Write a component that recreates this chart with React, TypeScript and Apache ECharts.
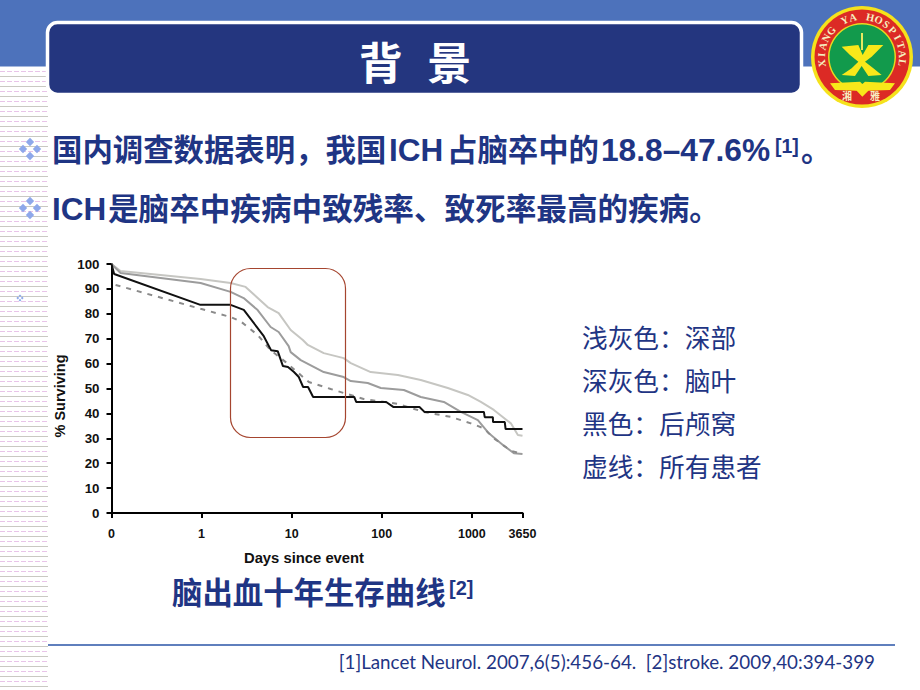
import React, { useEffect, useRef } from "react";
import * as echarts from "echarts";

const NAVY = "#1f3584";
const SANS = "'Liberation Sans','Noto Sans CJK SC',sans-serif";

const xTickLabels = ["0", "1", "10", "100", "1000", "3650"];
const yMax = 100;

const deep: number[][] = [[0.1, 100], [0.126, 97.2], [0.975, 94], [2.1, 92.4], [3.08, 90.8], [5.41, 82.7], [7.17, 80.3], [9.75, 73.5], [13.3, 69.5], [15.1, 67.5], [22.7, 64.2], [37.8, 62.2], [45.3, 60.2], [75.4, 56.6], [151, 55.4], [271, 53.4], [541, 50.2], [903, 47.4], [1259, 44.6], [1755, 41.4], [2710, 36], [3243, 31.3], [3650, 31]];
const lobar: number[][] = [[0.1, 100], [0.126, 96.4], [0.975, 92.4], [2.1, 88.8], [2.93, 86.3], [4.19, 81.5], [5.84, 74.7], [7.17, 72.7], [9.26, 67], [9.75, 64.6], [12.6, 61.4], [22.7, 56.6], [37.8, 54.6], [45.3, 53], [69.9, 52.2], [97.5, 50.2], [176, 49.4], [271, 46.6], [489, 44.6], [755, 40.6], [1166, 37.3], [1545, 32], [2210, 27.3], [2930, 24], [3650, 23.7]];
const posterior: number[][] = [[0.1, 100], [0.107, 96], [0.97, 83.6], [2.1, 83.6], [2.94, 81.6], [4.9, 71], [5.9, 65.4], [7, 65], [8, 59], [9.1, 58.6], [10.6, 56.6], [12, 54.6], [13.4, 50.6], [15.2, 50.6], [17.3, 46.6], [49.5, 46.6], [52, 44.6], [112, 44.6], [134, 42.6], [262, 42.6], [298, 40.6], [1360, 40.6], [1390, 38.5], [1710, 38.5], [1720, 36.5], [2320, 36.5], [2370, 33.7], [3650, 33.7]];
const allPatients: number[][] = [[0.111, 91.6], [0.975, 82], [2.1, 78.7], [2.71, 77], [4.19, 71.5], [5.84, 65.4], [8.58, 60.6], [12.6, 55.4], [15.5, 52.6], [27.1, 49.8], [37.8, 48.2], [63, 45.8], [151, 43.8], [293, 40.6], [585, 38.6], [975, 36], [1359, 34], [1755, 30], [2710, 25], [3650, 23.7]];

const keyLabels = ["浅灰色：深部", "深灰色：脑叶", "黑色：后颅窝", "虚线：所有患者"];
const hospitalName = "XIANG YA HOSPITAL";

function stripes() {
  const out: any[] = [];
  for (let y = 71, i = 0; y < 690; y += 5, i++) {
    out.push({
      type: "line", silent: true,
      shape: { x1: 0, y1: y + 0.5, x2: 48, y2: y + 0.5 },
      style: i % 2 === 1
        ? { stroke: "#c9c9c2", lineWidth: 1 }
        : { stroke: "#e8c4e8", lineWidth: 1, lineDash: [5, 2] },
    });
  }
  return out;
}

function bullet(cx: number, cy: number, r: number, d: number) {
  return [[0, -d], [0, d], [-d, 0], [d, 0]].map(([dx, dy]) => ({
    type: "polygon", silent: true,
    shape: { points: [[cx + dx, cy + dy - r], [cx + dx + r, cy + dy], [cx + dx, cy + dy + r], [cx + dx - r, cy + dy]] },
    style: { fill: "#8ea8ea" },
  }));
}

function txt(text: string, x: number, y: number, size: number, opts: any = {}) {
  return {
    type: "text", silent: true, x, y, rotation: opts.rotation || 0, z: 20,
    style: {
      text, x: 0, y: 0, fontSize: size, fontWeight: opts.weight || "normal",
      fontFamily: opts.family || SANS, fill: opts.fill || NAVY,
      align: opts.align || "left", verticalAlign: "middle",
    },
  };
}

function logo() {
  const cx = 862, cy = 57;
  const p = (pts: number[][]) => pts.map(([zx, zy]) => [740 + zx / 3, zy / 3]);
  const out: any[] = [
    { type: "circle", shape: { cx, cy, r: 51 }, style: { fill: "#f5e21c" }, z: 5 },
    { type: "circle", shape: { cx, cy, r: 47.5 }, style: { fill: "#dc2a25" }, z: 5 },
    { type: "circle", shape: { cx, cy, r: 34 }, style: { fill: "#e8d820" }, z: 5 },
    { type: "circle", shape: { cx, cy, r: 32.5 }, style: { fill: "#129a4c" }, z: 5 },
    {
      type: "polygon", z: 6,
      shape: { points: p([[305, 140], [355, 135], [368, 165], [385, 135], [430, 135], [395, 170], [375, 185], [400, 205], [425, 225], [385, 228], [365, 198], [345, 228], [305, 225], [335, 205], [355, 185], [330, 165]]) },
      style: { fill: "#f8e81a" },
    },
    {
      type: "polygon", z: 6,
      shape: { points: p([[270, 250], [360, 245], [367, 252], [375, 245], [465, 250], [450, 270], [385, 272], [367, 290], [350, 272], [285, 270]]) },
      style: { fill: "#f8e81a" },
    },
    { type: "line", z: 6, shape: { x1: cx, y1: 33, x2: cx, y2: 50 }, style: { stroke: "#e8e860", lineWidth: 2 } },
  ];
  const chars = hospitalName.split("");
  chars.forEach((c, i) => {
    if (c === " ") return;
    const a = ((-99 + (197 * i) / (chars.length - 1)) * Math.PI) / 180;
    out.push(txt(c, cx + 40.5 * Math.sin(a), cy - 40.5 * Math.cos(a), 10.5, {
      rotation: -a, align: "center", weight: "bold", fill: "#f6efc0", family: "'Liberation Serif',serif",
    }));
  });
  out.push(txt("湘", 847, 96, 10, { align: "center", weight: "bold", fill: "#f6efc0" }));
  out.push(txt("雅", 875, 96, 10, { align: "center", weight: "bold", fill: "#f6efc0" }));
  return out;
}

export default function App() {
  const ref = useRef<HTMLDivElement>(null);
  useEffect(() => {
    document.body.style.margin = "0";
    const chart = echarts.init(ref.current!, null, { renderer: "svg" });
    const line = (name: string, data: number[][], color: string, z: number, extra: any = {}) => ({
      type: "line", name, data, symbol: "none", smooth: false, z, silent: true,
      lineStyle: { color, width: 2, cap: "butt", ...extra },
    });
    const B = { weight: "bold" };
    chart.setOption({
      animation: false,
      backgroundColor: "#ffffff",
      grid: { left: 111.5, right: 920 - 522.5, top: 264, height: 249, containLabel: false },
      xAxis: {
        type: "log", logBase: 10, min: 0.1, max: 3650,
        axisLine: { show: true, onZero: false, lineStyle: { color: "#000", width: 2 } },
        axisTick: { show: true, length: 5, lineStyle: { color: "#000", width: 2 } },
        minorTick: { show: false }, splitLine: { show: false },
        axisLabel: {
          show: true, margin: 14, fontFamily: "'Liberation Sans',sans-serif", fontWeight: "bold", fontSize: 12.5, color: "#111",
          showMinLabel: true, showMaxLabel: true,
          formatter: (v: number) => (v < 0.5 ? xTickLabels[0] : v > 2000 ? xTickLabels[5] : String(Math.round(v))),
        },
        name: "Days since event", nameLocation: "middle", nameGap: 37,
        nameTextStyle: { fontFamily: "'Liberation Sans',sans-serif", fontWeight: "bold", fontSize: 14.8, color: "#111", padding: [0, 26, 0, 0] },
      },
      yAxis: {
        type: "value", min: 0, max: yMax, interval: 10,
        axisLine: { show: true, lineStyle: { color: "#000", width: 2 } },
        axisTick: { show: true, length: 5, lineStyle: { color: "#000", width: 2 } },
        splitLine: { show: false },
        axisLabel: { margin: 12, fontFamily: "'Liberation Sans',sans-serif", fontWeight: "bold", fontSize: 13.3, color: "#111" },
        name: "% Surviving", nameLocation: "middle", nameGap: 44,
        nameTextStyle: { fontFamily: "'Liberation Sans',sans-serif", fontWeight: "bold", fontSize: 14.5, color: "#111", padding: [0, 15, 0, 0] },
      },
      series: [
        line("深部", deep, "#c6c6c2", 2),
        line("脑叶", lobar, "#9c9c9c", 3),
        line("所有患者", allPatients, "#8a8a8a", 4, { type: [5, 6] }),
        line("后颅窝", posterior, "#101010", 5),
      ],
      graphic: {
        elements: [
          { type: "rect", shape: { x: 0, y: 0, width: 920, height: 66.5 }, style: { fill: "#4d72bb" } },
          ...stripes(),
          { type: "rect", z: 3, shape: { x: 47.5, y: 22.5, width: 754, height: 72, r: 10 }, style: { fill: "#24367f", stroke: "#ffffff", lineWidth: 3.5 } },
          txt("背  景", 415, 64, 44, { align: "center", weight: "bold", fill: "#ffffff" }),
          ...logo(),
          ...bullet(30, 149, 4.2, 7), ...bullet(30, 208, 4.2, 7), ...bullet(20, 298, 1.4, 2.2),
          txt("国内调查数据表明，我国", 52, 150, 30.4, B),
          txt("ICH", 389, 150, 31.5, B),
          txt("占脑卒中的", 447, 150, 30.4, B),
          txt("18.8–47.6%", 601, 150, 31.7, B),
          txt("[1]", 775, 146, 19.5, B),
          txt("。", 801, 150, 30.4, B),
          txt("ICH", 52, 209, 31.5, B),
          txt("是脑卒中疾病中致残率、致死率最高的疾病。", 108, 209, 30.6, B),
          ...keyLabels.map((s, i) => txt(s, 582, 339 + i * 43, 25.7)),
          txt("脑出血十年生存曲线", 172, 593, 30.4, B),
          txt("[2]", 449, 588, 20, B),
          { type: "line", shape: { x1: 48, y1: 645, x2: 895, y2: 645 }, style: { stroke: "#5f7fbd", lineWidth: 2 } },
          txt("[1]Lancet Neurol. 2007,6(5):456-64.  [2]stroke. 2009,40:394-399", 875, 661, 18.8, { align: "right", family: "Lato,sans-serif" }),
          { type: "rect", z: 10, shape: { x: 230.5, y: 268.5, width: 115, height: 169, r: 20 }, style: { fill: "none", stroke: "#a5452f", lineWidth: 1.2 } },
        ],
      },
    });
    return () => chart.dispose();
  }, []);
  return <div ref={ref} style={{ width: 920, height: 690 }} />;
}
